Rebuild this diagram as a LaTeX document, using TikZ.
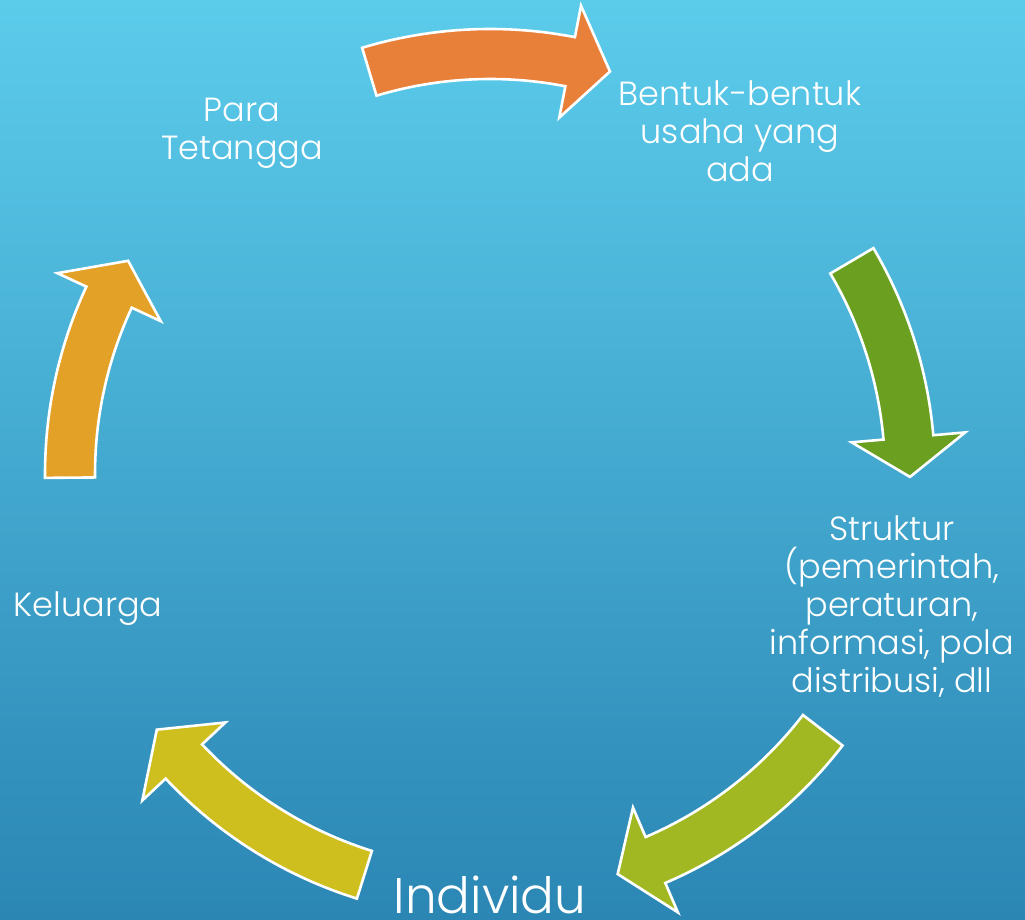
\documentclass[tikz,border=0pt]{standalone}
\usepackage{fontspec}
\setmainfont{Poppins Light}
\definecolor{bgtop}{HTML}{5CCCEB}
\definecolor{bgbot}{HTML}{2B86B4}
\definecolor{arrOrange}{HTML}{E8803A}
\definecolor{arrGreen}{HTML}{6A9F20}
\definecolor{arrLime}{HTML}{A2B822}
\definecolor{arrYellow}{HTML}{CEBF1F}
\definecolor{arrAmber}{HTML}{E3A127}
\newcommand\cyclearrow[4]{%
  \filldraw[cyc arrow, fill=#1] (#2:445) arc[start angle=#2, end angle=#3, radius=445]
    -- (#3:477) -- (#4:420) -- (#3:363) -- (#3:395)
    arc[start angle=#3, end angle=#2, radius=395] -- cycle;}
\begin{document}
\begin{tikzpicture}[x=1pt,y=1pt,
  cyc arrow/.style={draw=white, line width=2.6pt, line join=miter},
  lbl/.style={text=white, align=center, inner sep=0pt, anchor=base,
    font=\fontsize{33.5}{38}\selectfont}]
\useasboundingbox (0,0) rectangle (1025,920);
\shade[top color=bgtop, bottom color=bgbot] (0,0) rectangle (1025,920);
\begin{scope}[shift={(490,446)}]
  \cyclearrow{arrOrange}{106.7}{79}{73.4}
  \cyclearrow{arrGreen}{30.5}{5}{-0.4}
  \cyclearrow{arrLime}{-37.6}{-66.8}{-72.3}
  \cyclearrow{arrYellow}{252.6}{223.2}{217.5}
  \cyclearrow{arrAmber}{180.5}{155.1}{149.5}
\end{scope}
\node[lbl] (bentuk) at (740,738) {Bentuk-bentuk\\usaha yang\\ada};
\node[lbl] (struktur) at (892,227) {Struktur\\(pemerintah,\\peraturan,\\informasi, pola\\distribusi, dll};
\node[lbl, font=\fontsize{50}{60}\selectfont] (individu) at (490,6) {Individu};
\node[lbl] (keluarga) at (88,303) {Keluarga};
\node[lbl] (tetangga) at (242,760) {Para\\Tetangga};
\end{tikzpicture}
\end{document}
